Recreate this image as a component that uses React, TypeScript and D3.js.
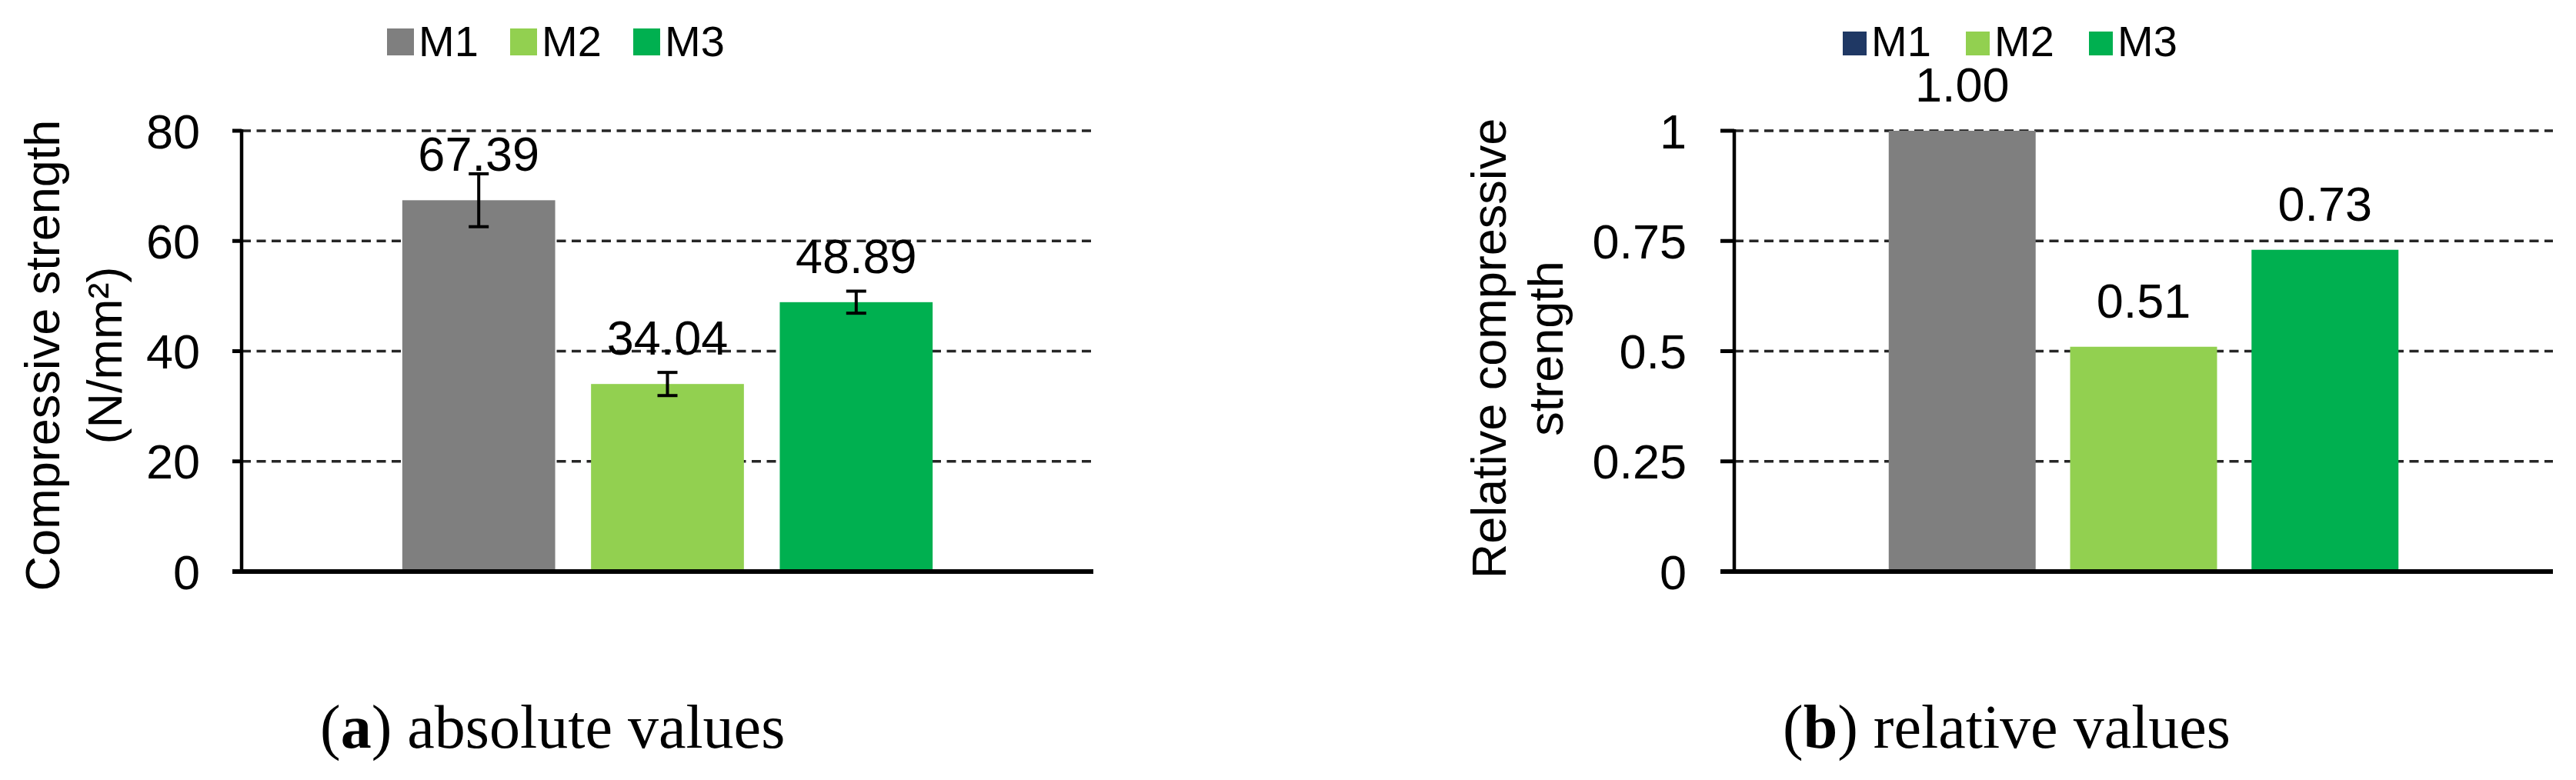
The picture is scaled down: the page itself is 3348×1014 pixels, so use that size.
import React from "react";
import * as d3 from "d3";

const categories = ["M1", "M2", "M3"];
const absValues = [67.39, 34.04, 48.89];
const absErrors = [4.8, 2.1, 2.0];
const relValues = [1.0, 0.51, 0.73];
const absTicks = [0, 20, 40, 60, 80];
const relTicks = [0, 0.25, 0.5, 0.75, 1];
const absTickLabels = ["0", "20", "40", "60", "80"];
const relTickLabels = ["0", "0.25", "0.5", "0.75", "1"];
const barColors = ["#7F7F7F", "#92D050", "#00B050"];
const relLegendColors = ["#1F3864", "#92D050", "#00B050"];

const FONT = "Arial, 'Liberation Sans', Helvetica, sans-serif";
const SERIF = "'Palatino Linotype', 'Book Antiqua', 'Liberation Serif', 'Times New Roman', serif";

type PanelProps = {
  x0: number;
  x1: number;
  yTop: number;
  yBottom: number;
  values: number[];
  errors?: number[];
  ticks: number[];
  tickLabels: string[];
  yMax: number;
  tickLen: number;
  labelGap: number;
  titleLines: string[];
  titleX: number[];
  titleCenterY: number;
  legendX: number;
  legendColors: string[];
  legendSq: number;
  caption: React.ReactNode;
  captionX: number;
};

function Panel(p: PanelProps) {
  const y = d3.scaleLinear().domain([0, p.yMax]).range([p.yBottom, p.yTop]);
  const outer = d3.scaleBand<string>().domain(["g"]).range([p.x0, p.x1]).paddingInner(0).paddingOuter(0.303);
  const gx = outer("g") as number;
  const inner = d3
    .scaleBand<string>()
    .domain(categories)
    .range([gx, gx + outer.bandwidth()])
    .paddingInner(0.19)
    .paddingOuter(0);
  const bw = inner.bandwidth();
  return (
    <g>
      {/* gridlines */}
      {p.ticks
        .filter((t) => t !== 0)
        .map((t, i) => (
          <line
            key={"g" + i}
            x1={p.x0}
            x2={p.x1}
            y1={y(t)}
            y2={y(t)}
            stroke="#262626"
            strokeWidth={3.5}
            strokeDasharray="12,7.5"
          />
        ))}
      {/* bars */}
      {categories.map((c, i) => (
        <rect
          key={"b" + c}
          x={inner(c)}
          y={y(p.values[i])}
          width={bw}
          height={p.yBottom - y(p.values[i])}
          fill={barColors[i]}
        />
      ))}
      {/* error bars */}
      {p.errors &&
        categories.map((c, i) => {
          const cx = (inner(c) as number) + bw / 2;
          const hi = y(p.values[i] + p.errors![i]);
          const lo = y(p.values[i] - p.errors![i]);
          return (
            <g key={"e" + c} stroke="#000" strokeWidth={4}>
              <line x1={cx} x2={cx} y1={hi} y2={lo} />
              <line x1={cx - 13} x2={cx + 13} y1={hi} y2={hi} />
              <line x1={cx - 13} x2={cx + 13} y1={lo} y2={lo} />
            </g>
          );
        })}
      {/* data labels */}
      {categories.map((c, i) => (
        <text
          key={"l" + c}
          x={(inner(c) as number) + bw / 2}
          y={y(p.values[i]) - 38}
          textAnchor="middle"
          fontFamily={FONT}
          fontSize={63}
          fill="#000"
        >
          {p.values[i].toFixed(2)}
        </text>
      ))}
      {/* y axis */}
      <line x1={p.x0} x2={p.x0} y1={p.yTop - 2} y2={p.yBottom} stroke="#000" strokeWidth={4.5} />
      {p.ticks.map((t, i) => (
        <line key={"t" + i} x1={p.x0 - p.tickLen} x2={p.x0} y1={y(t)} y2={y(t)} stroke="#000" strokeWidth={5} />
      ))}
      {/* x axis */}
      <line x1={p.x0 - p.tickLen} x2={p.x1} y1={p.yBottom} y2={p.yBottom} stroke="#000" strokeWidth={6} />
      {/* tick labels */}
      {p.ticks.map((t, i) => (
        <text
          key={"tl" + i}
          x={p.x0 - p.labelGap}
          y={y(t)}
          dy="0.36em"
          textAnchor="end"
          fontFamily={FONT}
          fontSize={63}
          fill="#000"
        >
          {p.tickLabels[i]}
        </text>
      ))}
      {/* y title */}
      {p.titleLines.map((ln, i) => (
        <text
          key={"yt" + i}
          transform={`translate(${p.titleX[i]},${p.titleCenterY}) rotate(-90)`}
          textAnchor="middle"
          fontFamily={FONT}
          fontSize={63}
          fill="#000"
        >
          {ln}
        </text>
      ))}
      {/* legend */}
      {categories.map((c, i) => {
        const lx = p.legendX + i * 160;
        return (
          <g key={"lg" + c}>
            <rect x={lx} y={72 - p.legendSq} width={p.legendSq} height={p.legendSq} fill={p.legendColors[i]} />
            <text x={lx + p.legendSq + 6} y={73} fontFamily={FONT} fontSize={56} fill="#000">
              {c}
            </text>
          </g>
        );
      })}
      {/* caption */}
      <text x={p.captionX} y={972} fontFamily={SERIF} fontSize={80} fill="#000">
        {p.caption}
      </text>
    </g>
  );
}

export default function App() {
  return (
    <svg
      width={3348}
      height={1014}
      viewBox="0 0 3348 1014"
      style={{ position: "absolute", left: 0, top: 0, background: "#fff" }}
    >
      <rect x={0} y={0} width={3348} height={1014} fill="#fff" />
      <Panel
        x0={314}
        x1={1421}
        yTop={170}
        yBottom={743}
        values={absValues}
        errors={absErrors}
        ticks={absTicks}
        tickLabels={absTickLabels}
        yMax={80}
        tickLen={12}
        labelGap={54}
        titleLines={["Compressive strength", "(N/mm²)"]}
        titleX={[77, 158]}
        titleCenterY={462}
        legendX={503}
        legendColors={barColors}
        legendSq={35}
        captionX={416}
        caption={
          <>
            (<tspan fontWeight="bold">a</tspan>) absolute values
          </>
        }
      />
      <Panel
        x0={2254}
        x1={3318}
        yTop={170}
        yBottom={743}
        values={relValues}
        ticks={relTicks}
        tickLabels={relTickLabels}
        yMax={1}
        tickLen={18}
        labelGap={62}
        titleLines={["Relative compressive", "strength"]}
        titleX={[1957, 2031]}
        titleCenterY={453}
        legendX={2395}
        legendColors={relLegendColors}
        legendSq={31}
        captionX={2317}
        caption={
          <>
            (<tspan fontWeight="bold">b</tspan>) relative values
          </>
        }
      />
    </svg>
  );
}
